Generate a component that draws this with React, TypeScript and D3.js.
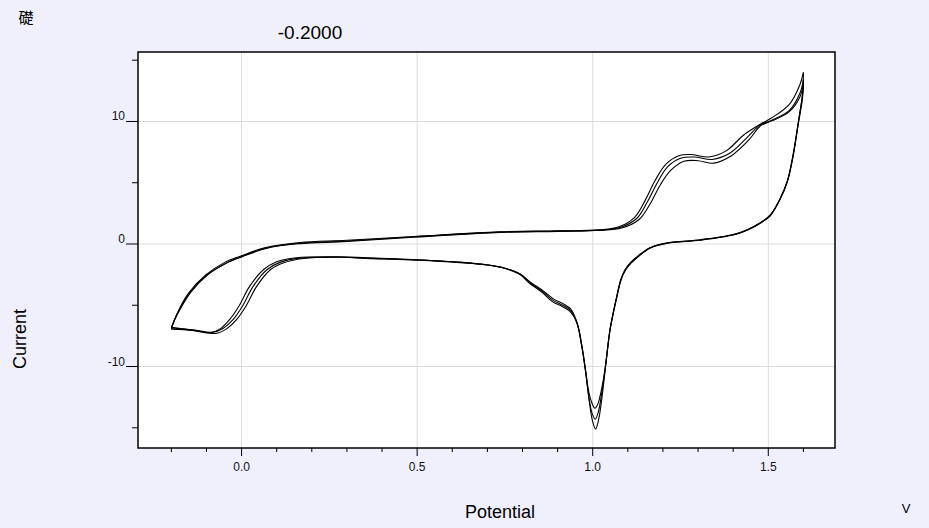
import React from "react";
import * as d3 from "d3";

// potential (V), current, three cycles
const cycleAForward = [
  [-0.2, -6.95], [-0.187, -5.9], [-0.152, -4.05], [-0.103, -2.55], [-0.048, -1.5], [-0.004, -1.0],
  [0.066, -0.3], [0.166, 0.12], [0.3, 0.3], [0.5, 0.63], [0.736, 0.99], [0.9, 1.07],
  [1.02, 1.15], [1.075, 1.4], [1.12, 2.2], [1.15, 3.6], [1.178, 5.2], [1.208, 6.5],
  [1.245, 7.2], [1.28, 7.3], [1.33, 7.1], [1.38, 7.6], [1.43, 8.9], [1.476, 9.75],
  [1.51, 10.3], [1.56, 11.4], [1.59, 13.0], [1.6, 14.0],
];
const cycleBForward = [
  [-0.2, -6.85], [-0.185, -5.8], [-0.148, -4.0], [-0.099, -2.55], [-0.043, -1.55], [0.0, -1.05],
  [0.072, -0.35], [0.166, 0.06], [0.3, 0.25], [0.5, 0.6], [0.736, 0.97], [0.9, 1.05],
  [1.02, 1.13], [1.078, 1.35], [1.126, 2.1], [1.155, 3.4], [1.184, 5.0], [1.213, 6.3],
  [1.25, 7.0], [1.29, 7.1], [1.34, 6.9], [1.39, 7.4], [1.44, 8.7], [1.476, 9.7],
  [1.51, 10.1], [1.56, 10.9], [1.59, 12.3], [1.6, 13.4],
];
const cycleCForward = [
  [-0.2, -6.8], [-0.183, -5.75], [-0.145, -3.95], [-0.096, -2.5], [-0.039, -1.5], [0.002, -1.0],
  [0.075, -0.3], [0.166, 0.03], [0.3, 0.2], [0.5, 0.57], [0.736, 0.95], [0.9, 1.03],
  [1.02, 1.12], [1.082, 1.3], [1.132, 2.0], [1.162, 3.2], [1.192, 4.8], [1.222, 6.0],
  [1.26, 6.75], [1.3, 6.8], [1.345, 6.6], [1.395, 7.2], [1.445, 8.5], [1.478, 9.65],
  [1.51, 10.05], [1.56, 10.8], [1.59, 12.0], [1.6, 13.0],
];

const cycleAReverse = [
  [1.6, 14.0], [1.598, 12.4], [1.587, 10.2], [1.572, 7.5], [1.555, 5.2], [1.533, 3.65],
  [1.505, 2.35], [1.476, 1.72], [1.44, 1.17], [1.4, 0.77], [1.307, 0.35], [1.213, 0.1],
  [1.163, -0.3], [1.13, -0.95], [1.108, -1.5], [1.092, -2.1], [1.08, -2.9], [1.069, -4.2],
  [1.058, -5.65], [1.049, -7.0], [1.035, -10.2],
  [1.024, -12.0], [1.014, -13.1], [1.006, -13.4], [0.998, -13.0], [0.989, -12.1], [0.979, -10.2],
  [0.969, -8.3], [0.955, -6.4], [0.937, -5.3], [0.917, -4.9], [0.889, -4.5], [0.86, -3.85],
  [0.822, -3.1], [0.793, -2.45], [0.75, -1.98], [0.698, -1.7], [0.622, -1.48], [0.5, -1.28], [0.356, -1.12],
  [0.27, -1.04], [0.156, -1.12], [0.1, -1.45], [0.062, -2.1], [0.022, -3.5], [-0.006, -5.0],
  [-0.035, -6.2], [-0.062, -6.95], [-0.09, -7.25], [-0.14, -7.05], [-0.2, -6.95],
];
const cycleBReverse = [
  [1.6, 13.4], [1.597, 12.0], [1.586, 10.0], [1.571, 7.3], [1.554, 5.1], [1.532, 3.6],
  [1.505, 2.3], [1.476, 1.7], [1.44, 1.15], [1.4, 0.75], [1.307, 0.33], [1.213, 0.08],
  [1.163, -0.33], [1.13, -1.0], [1.108, -1.55], [1.092, -2.15], [1.08, -2.95], [1.069, -4.25],
  [1.058, -5.7], [1.049, -7.05], [1.035, -10.3],
  [1.025, -12.3], [1.016, -13.7], [1.007, -14.3], [0.998, -13.8], [0.989, -12.5], [0.979, -10.3],
  [0.969, -8.4], [0.955, -6.45], [0.936, -5.4], [0.915, -5.0], [0.887, -4.6], [0.858, -3.9],
  [0.821, -3.15], [0.793, -2.45], [0.75, -1.98], [0.698, -1.7], [0.622, -1.5], [0.5, -1.3], [0.356, -1.15],
  [0.28, -1.06], [0.166, -1.15], [0.109, -1.5], [0.072, -2.1], [0.032, -3.5], [0.004, -5.0],
  [-0.025, -6.2], [-0.053, -6.9], [-0.082, -7.2], [-0.138, -7.0], [-0.2, -6.85],
];
const cycleCReverse = [
  [1.6, 13.0], [1.597, 11.8], [1.586, 9.9], [1.571, 7.2], [1.554, 5.05], [1.532, 3.55],
  [1.505, 2.28], [1.476, 1.68], [1.44, 1.13], [1.4, 0.73], [1.307, 0.31], [1.213, 0.06],
  [1.163, -0.35], [1.13, -1.02], [1.108, -1.6], [1.092, -2.2], [1.08, -3.0], [1.069, -4.3],
  [1.058, -5.75], [1.049, -7.1], [1.035, -10.4],
  [1.026, -12.6], [1.017, -14.3], [1.008, -15.1], [0.999, -14.4], [0.99, -12.8], [0.98, -10.4],
  [0.97, -8.5], [0.956, -6.5], [0.935, -5.5], [0.913, -5.1], [0.885, -4.7], [0.856, -3.95],
  [0.82, -3.2], [0.793, -2.5], [0.75, -2.0], [0.698, -1.72], [0.622, -1.52], [0.5, -1.32], [0.356, -1.18],
  [0.29, -1.08], [0.176, -1.18], [0.118, -1.55], [0.082, -2.1], [0.042, -3.5], [0.014, -5.0],
  [-0.015, -6.2], [-0.044, -6.95], [-0.074, -7.3], [-0.136, -7.05], [-0.2, -6.8],
];

const branches = [cycleAForward, cycleBForward, cycleCForward, cycleAReverse, cycleBReverse, cycleCReverse];

const xMajorTicks = [0, 0.5, 1.0, 1.5];
const xMinorTicks = [-0.2, -0.1, 0.1, 0.2, 0.3, 0.4, 0.6, 0.7, 0.8, 0.9, 1.1, 1.2, 1.3, 1.4, 1.6];
const yMajorTicks = [-10, 0, 10];
const yMinorTicks = [-15, -5, 5, 15];

const title = "-0.2000";
const xTitle = "Potential";
const yTitle = "Current";
const unitLabel = "V";
const cornerLabel = "礎";

const W = 929;
const H = 528;
const plot = { left: 138, right: 835, top: 52, bottom: 448 };
const font = "Arial, 'Liberation Sans', sans-serif";

export default function App() {
  const x = d3.scaleLinear().domain([-0.295, 1.69]).range([plot.left, plot.right]);
  const y = d3.scaleLinear().domain([-16.65, 15.67]).range([plot.bottom, plot.top]);

  const line = d3
    .line<number[]>()
    .x((d) => x(d[0]))
    .y((d) => y(d[1]))
    .curve(d3.curveCatmullRom.alpha(0.5));

  return (
    <svg
      width={W}
      height={H}
      style={{ position: "absolute", left: 0, top: 0, display: "block" }}
      fontFamily={font}
    >
      <rect x={0} y={0} width={W} height={H} fill="#f0f0fc" />
      <rect
        x={plot.left}
        y={plot.top}
        width={plot.right - plot.left}
        height={plot.bottom - plot.top}
        fill="#ffffff"
      />

      {/* grid */}
      {xMajorTicks.map((t) => (
        <line key={"gx" + t} x1={x(t)} x2={x(t)} y1={plot.top} y2={plot.bottom} stroke="#dcdcdc" />
      ))}
      {yMajorTicks.map((t) => (
        <line key={"gy" + t} x1={plot.left} x2={plot.right} y1={y(t)} y2={y(t)} stroke="#dcdcdc" />
      ))}

      {/* curves */}
      <g fill="none" stroke="#000" strokeWidth={1.1} strokeLinejoin="round">
        {branches.map((b, i) => (
          <path key={i} d={line(b) || ""} />
        ))}
      </g>

      <rect
        x={plot.left}
        y={plot.top}
        width={plot.right - plot.left}
        height={plot.bottom - plot.top}
        fill="none"
        stroke="#000"
        strokeWidth={1.5}
      />

      {/* x axis */}
      {xMajorTicks.map((t) => (
        <g key={"xt" + t}>
          <line x1={x(t)} x2={x(t)} y1={plot.bottom} y2={plot.bottom + 8} stroke="#000" />
          <text x={x(t)} y={plot.bottom + 23} fontSize={12} textAnchor="middle" fill="#111">
            {t.toFixed(1)}
          </text>
        </g>
      ))}
      {xMinorTicks.map((t) => (
        <line key={"xm" + t} x1={x(t)} x2={x(t)} y1={plot.bottom} y2={plot.bottom + 4} stroke="#000" />
      ))}

      {/* y axis */}
      {yMajorTicks.map((t) => (
        <g key={"yt" + t}>
          <line x1={plot.left - 12} x2={plot.left} y1={y(t)} y2={y(t)} stroke="#000" />
          <text x={125} y={y(t) - 1} fontSize={12} textAnchor="end" fill="#111">
            {t}
          </text>
        </g>
      ))}
      {yMinorTicks.map((t) => (
        <line key={"ym" + t} x1={plot.left - 6} x2={plot.left} y1={y(t)} y2={y(t)} stroke="#000" />
      ))}

      <text x={310} y={39} fontSize={19} textAnchor="middle" fill="#000">
        {title}
      </text>
      <text x={26} y={23} fontSize={15} textAnchor="middle" fill="#000" fontFamily="'Noto Sans CJK JP', sans-serif">
        {cornerLabel}
      </text>
      <text x={500} y={518} fontSize={18} textAnchor="middle" fill="#000">
        {xTitle}
      </text>
      <text
        transform="translate(26,339) rotate(-90)"
        fontSize={18}
        textAnchor="middle"
        fill="#000"
      >
        {yTitle}
      </text>
      <text x={906} y={513} fontSize={13} textAnchor="middle" fill="#000">
        {unitLabel}
      </text>
    </svg>
  );
}
